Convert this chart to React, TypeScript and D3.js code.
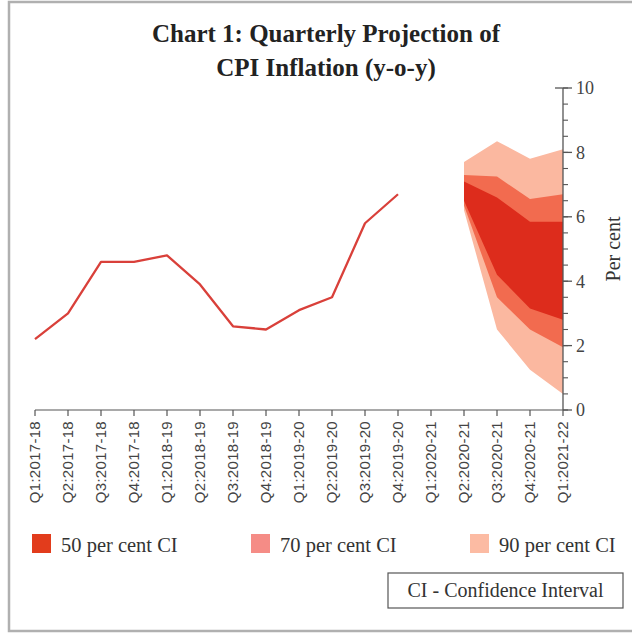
import React from "react";
import * as d3 from "d3";

const categories = [
  "Q1:2017-18", "Q2:2017-18", "Q3:2017-18", "Q4:2017-18",
  "Q1:2018-19", "Q2:2018-19", "Q3:2018-19", "Q4:2018-19",
  "Q1:2019-20", "Q2:2019-20", "Q3:2019-20", "Q4:2019-20",
  "Q1:2020-21", "Q2:2020-21", "Q3:2020-21", "Q4:2020-21", "Q1:2021-22",
];

const actualCats = categories.slice(0, 12);
const actualValues = [2.2, 3.0, 4.6, 4.6, 4.8, 3.9, 2.6, 2.5, 3.1, 3.5, 5.8, 6.7];

const fanCats = ["Q2:2020-21", "Q3:2020-21", "Q4:2020-21", "Q1:2021-22"];
const upper90 = [7.7, 8.35, 7.8, 8.1];
const lower90 = [6.2, 2.5, 1.25, 0.5];
const upper70 = [7.3, 7.25, 6.55, 6.7];
const lower70 = [6.35, 3.5, 2.5, 1.95];
const upper50 = [7.1, 6.6, 5.85, 5.85];
const lower50 = [6.5, 4.2, 3.15, 2.8];

const yMajorTicks = [0, 2, 4, 6, 8, 10];
const yMinorTicks = d3.range(0, 10.01, 0.5);

const legendItems = ["50 per cent CI", "70 per cent CI", "90 per cent CI"];

const C50 = "#dd2c1c";
const C70 = "#f26b4f";
const C90 = "#fbb8a0";
const L50 = "#e23c1c";
const L70 = "#f58c86";
const L90 = "#fcbba3";

export default function App() {
  const x = d3.scalePoint<string>().domain(categories).range([35, 563]);
  const y = d3.scaleLinear().domain([0, 10]).range([410, 88]);

  const band = (up: number[], lo: number[]) =>
    d3
      .area<number>()
      .x((_, i) => x(fanCats[i]) as number)
      .y0((_, i) => y(lo[i]))
      .y1((_, i) => y(up[i]))(up.map((_, i) => i)) as string;

  const linePath = d3
    .line<number>()
    .x((_, i) => x(actualCats[i]) as number)
    .y((d) => y(d))(actualValues) as string;

  const serif = "'Liberation Serif', 'Times New Roman', serif";
  const sans = "'Liberation Sans', Arial, sans-serif";
  const axisX = 563;
  const legendX = [32, 251, 470];
  const legendColors = [L50, L70, L90];

  return (
    <svg
      width={632}
      height={636}
      style={{ position: "absolute", left: 0, top: 0, background: "#fff" }}
    >
      <rect x={9} y={2} width={640} height={629} fill="none" stroke="#b0b0b0" strokeWidth={2.5} />

      <text x={326} y={42} textAnchor="middle" fontFamily={serif} fontWeight="bold" fontSize={25} fill="#222">
        Chart 1: Quarterly Projection of
      </text>
      <text x={326} y={76} textAnchor="middle" fontFamily={serif} fontWeight="bold" fontSize={25} fill="#222">
        CPI Inflation (y-o-y)
      </text>

      <path d={band(upper90, lower90)} fill={C90} />
      <path d={band(upper70, lower70)} fill={C70} />
      <path d={band(upper50, lower50)} fill={C50} />

      <path d={linePath} fill="none" stroke="#d9403a" strokeWidth={2.3} strokeLinejoin="round" />

      {/* x axis */}
      <line x1={35} x2={axisX} y1={y(0)} y2={y(0)} stroke="#555" strokeWidth={1.2} />
      {categories.map((c) => (
        <line key={c} x1={x(c)} x2={x(c)} y1={y(0)} y2={y(0) + 6} stroke="#555" strokeWidth={1.2} />
      ))}
      {categories.map((c) => (
        <text
          key={"l" + c}
          transform={`translate(${x(c)},${y(0) + 11}) rotate(-90)`}
          textAnchor="end"
          dy="0.36em"
          fontFamily={sans}
          fontSize={15}
          letterSpacing={0.3}
          fill="#444"
        >
          {c}
        </text>
      ))}

      {/* y axis */}
      <line x1={axisX} x2={axisX} y1={y(0)} y2={y(10)} stroke="#555" strokeWidth={1.3} />
      {yMinorTicks.map((t) => (
        <line key={"m" + t} x1={axisX} x2={axisX + 5} y1={y(t)} y2={y(t)} stroke="#555" strokeWidth={1.1} />
      ))}
      {yMajorTicks.map((t) => (
        <line
          key={"M" + t}
          x1={t === 10 ? axisX - 8 : axisX}
          x2={axisX + 9}
          y1={y(t)}
          y2={y(t)}
          stroke="#555"
          strokeWidth={1.3}
        />
      ))}
      {yMajorTicks.map((t) => (
        <text key={"t" + t} x={576} y={y(t)} dy="0.35em" fontFamily={serif} fontSize={18} fill="#444">
          {t}
        </text>
      ))}
      <text
        transform="translate(620,249) rotate(-90)"
        textAnchor="middle"
        fontFamily={serif}
        fontSize={20}
        fill="#333"
      >
        Per cent
      </text>

      {/* legend */}
      {legendItems.map((lab, i) => (
        <g key={lab}>
          <rect x={legendX[i]} y={534} width={19} height={19} fill={legendColors[i]} />
          <text x={legendX[i] + 29} y={552} fontFamily={serif} fontSize={20.5} fill="#333">
            {lab}
          </text>
        </g>
      ))}

      <rect x={388} y={573} width={235} height={35} fill="#fff" stroke="#555" strokeWidth={1.2} />
      <text x={505.5} y={597} textAnchor="middle" fontFamily={serif} fontSize={20} fill="#333">
        CI - Confidence Interval
      </text>
    </svg>
  );
}
